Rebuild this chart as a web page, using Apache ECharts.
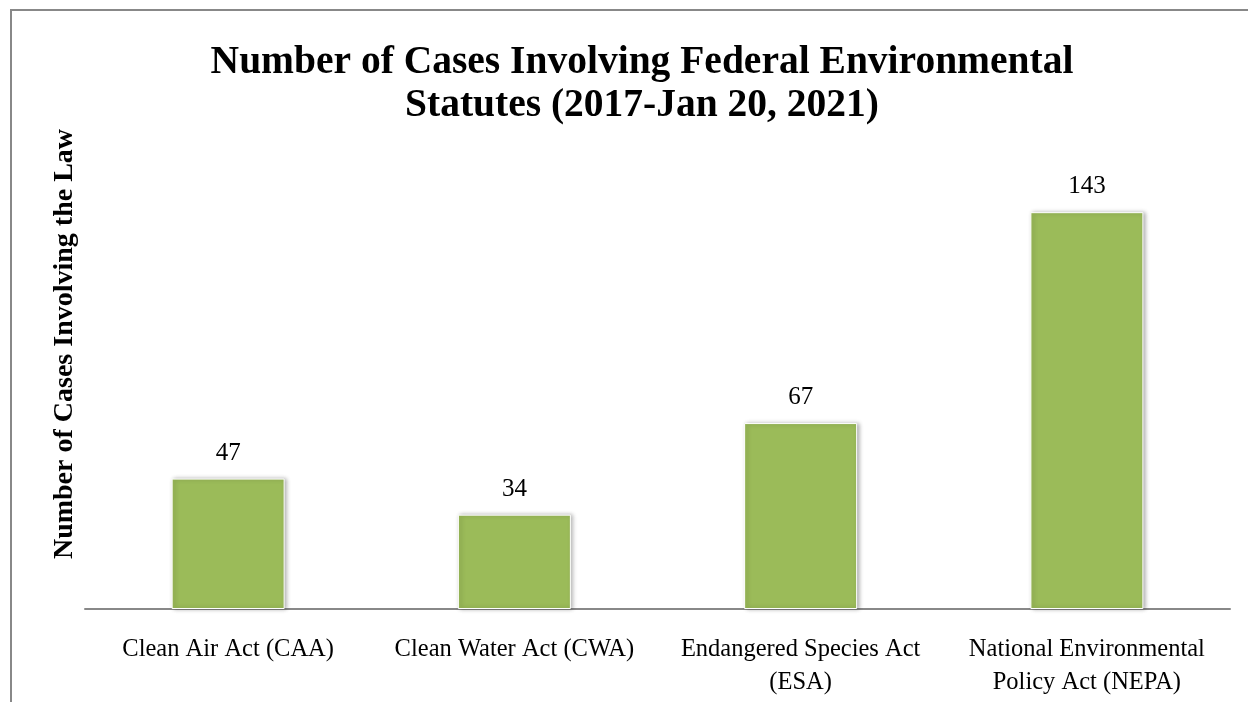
<!DOCTYPE html>
<html><head><meta charset="utf-8">
<script src="https://cdn.jsdelivr.net/npm/echarts@6/dist/echarts.min.js"></script>
<style>html,body{margin:0;padding:0;background:#fff}#c{width:1248px;height:702px}</style>
</head><body><div id="c"></div>
<script>
const categories = ["Clean Air Act (CAA)", "Clean Water Act (CWA)", "Endangered Species Act\n(ESA)", "National Environmental\nPolicy Act (NEPA)"];
const values = [47, 34, 67, 143];
const titleText = "Number of Cases Involving Federal Environmental\nStatutes (2017-Jan 20, 2021)";
const yAxisTitle = "Number of Cases Involving the Law";
const FONT = "'Liberation Serif', 'Times New Roman', serif";

const chart = echarts.init(document.getElementById('c'), null, {renderer: 'canvas'});
chart.setOption({
  animation: false,
  backgroundColor: '#fff',
  title: {
    text: titleText, left: 637, textAlign: 'center', top: 36,
    textStyle: {fontFamily: FONT, fontWeight: 'bold', fontSize: 39.5, color: '#000', lineHeight: 43}
  },
  graphic: [
    {type: 'rect', shape: {x: 11, y: 10, width: 1400, height: 900}, style: {fill: 'none', stroke: '#888', lineWidth: 2}, silent: true},
    {type: 'text', x: 65, y: 344, rotation: Math.PI / 2, style: {text: yAxisTitle, fontFamily: FONT, fontWeight: 'bold', fontSize: 28, fill: '#000', align: 'center', verticalAlign: 'middle'}}
  ],
  grid: {left: 85, right: 18, top: 165, bottom: 93, containLabel: false},
  xAxis: {
    type: 'category', data: categories,
    axisLine: {lineStyle: {color: '#888', width: 2}},
    axisTick: {show: false},
    axisLabel: {fontFamily: FONT, fontSize: 24.5, color: '#000', margin: 24, lineHeight: 33, interval: 0}
  },
  yAxis: {type: 'value', min: 0, max: 160, show: false, splitLine: {show: false}},
  series: [{
    type: 'bar', data: values, barWidth: 113,
    itemStyle: {color: '#9BBB59', borderColor: '#fff', borderWidth: 1, shadowBlur: 4, shadowOffsetX: 2, shadowOffsetY: 0, shadowColor: 'rgba(0,0,0,0.3)'},
    label: {show: true, position: 'top', distance: 13, fontFamily: FONT, fontSize: 25, color: '#000'}
  }]
});
</script></body></html>
